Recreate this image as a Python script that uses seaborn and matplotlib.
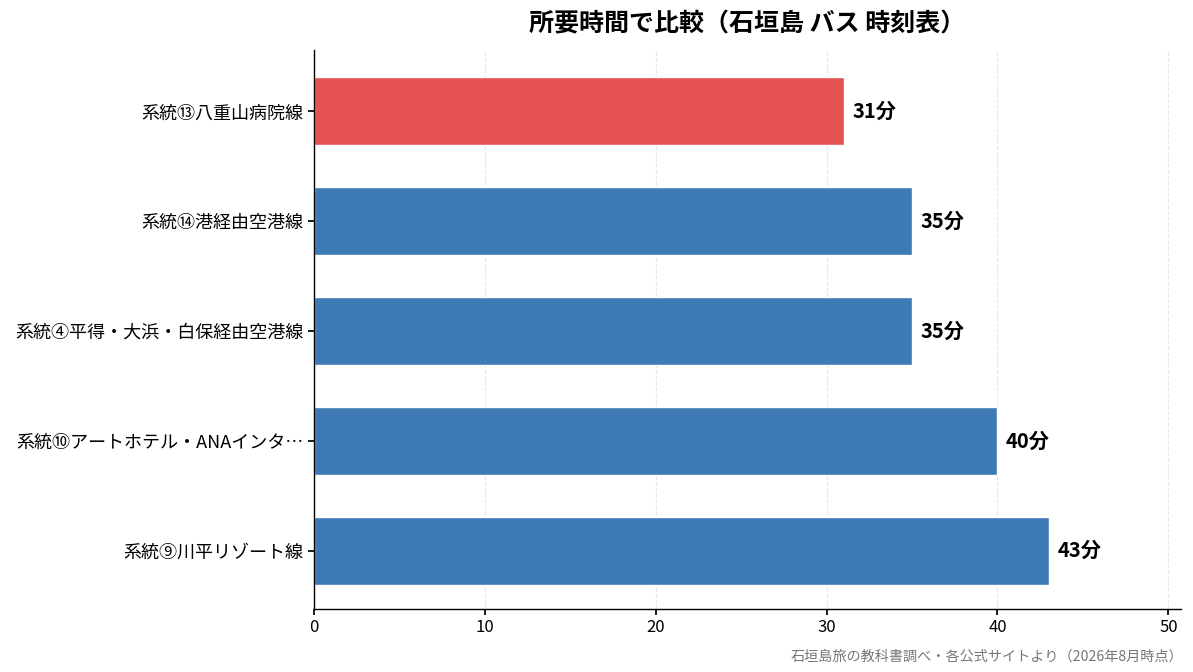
import matplotlib
matplotlib.use("Agg")
import matplotlib.pyplot as plt
import seaborn as sns
import pandas as pd

routes = ["系統⑬八重山病院線", "系統⑭港経由空港線", "系統④平得・大浜・白保経由空港線",
          "系統⑩アートホテル・ANAインタ…", "系統⑨川平リゾート線"]
minutes = [31, 35, 35, 40, 43]
bar_colors = ["#e45253", "#3e7ab5", "#3e7ab5", "#3e7ab5", "#3e7ab5"]

sns.set_theme(style="white")
plt.rcParams["font.family"] = ["Noto Sans CJK JP", "DejaVu Sans"]

df = pd.DataFrame({"route": routes, "minutes": minutes})

fig, ax = plt.subplots(figsize=(11.93, 6.72), dpi=100)
sns.barplot(data=df, y="route", x="minutes", hue="route", palette=bar_colors,
            orient="h", width=0.62, legend=False, ax=ax, saturation=1)

for i, v in enumerate(minutes):
    ax.text(v + 0.5, i, f"{v}分", va="center", ha="left",
            fontsize=14.5, fontweight="bold", color="black")

ax.set_xlim(0, max(minutes) * 1.18)
ax.set_ylim(4.53, -0.555)
ax.set_xticks([0, 10, 20, 30, 40, 50])
ax.xaxis.grid(True, linestyle="--", color="#dddddd", alpha=0.7, linewidth=0.8)
ax.set_axisbelow(True)
ax.set_xlabel("")
ax.set_ylabel("")
ax.tick_params(axis="y", labelsize=13, left=True, length=4, color="black", labelcolor="black")
ax.tick_params(axis="x", labelsize=12, bottom=True, length=4, color="black", labelcolor="black")
for s in ["top", "right"]:
    ax.spines[s].set_visible(False)
for s in ["left", "bottom"]:
    ax.spines[s].set_color("black")
    ax.spines[s].set_linewidth(1)

ax.set_title("所要時間で比較（石垣島 バス 時刻表）", fontsize=18, fontweight="bold",
             pad=14, color="black")
fig.text(0.992, 0.013, "石垣島旅の教科書調べ・各公式サイトより（2026年8月時点）",
         ha="right", va="bottom", fontsize=10.2, color="#777777")

fig.subplots_adjust(left=0.263, right=0.99, top=0.925, bottom=0.094)
fig.savefig("out.png", dpi=100)
